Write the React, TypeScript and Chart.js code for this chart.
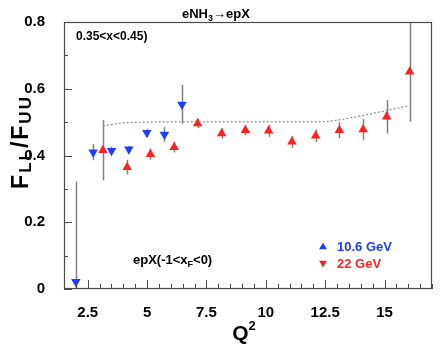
import React, { useEffect, useRef } from 'react';
import { Chart, registerables } from 'chart.js';

Chart.register(...registerables);

// ---- data ----
const blueQ2 = [2.0, 2.73, 3.5, 4.23, 4.99, 5.73, 6.47];
const blueVal = [0.022, 0.41, 0.414, 0.419, 0.468, 0.463, 0.553];
const blueErr = [0.3, 0.024, 0.012, 0.01, 0.012, 0.022, 0.058];

const redQ2 = [3.14, 4.16, 5.14, 6.14, 7.13, 8.14, 9.14, 10.12, 11.1, 12.1, 13.1, 14.1, 15.09, 16.06];
const redVal = [0.416, 0.365, 0.404, 0.425, 0.496, 0.466, 0.476, 0.474, 0.441, 0.459, 0.476, 0.478, 0.516, 0.651];
const redErr = [0.09, 0.022, 0.017, 0.016, 0.014, 0.016, 0.015, 0.018, 0.018, 0.019, 0.024, 0.031, 0.05, 0.15];

const curveQ2 = [3.14, 3.6, 4.1, 5.0, 7.0, 10.0, 12.3, 13.1, 14.15, 15.1, 16.05];
const curveVal = [0.488, 0.494, 0.498, 0.5, 0.501, 0.501, 0.501, 0.507, 0.521, 0.535, 0.549];

const xTickLabels = [2.5, 5, 7.5, 10, 12.5, 15];
const yTickLabels = [0, 0.2, 0.4, 0.6, 0.8];

const BLUE = '#1e3cff';
const RED = '#ff1f1f';
const FONT = '"Liberation Sans", Arial, Helvetica, sans-serif';

function tri(ctx: CanvasRenderingContext2D, x: number, y: number, r: number, up: boolean, color: string) {
  ctx.beginPath();
  if (up) {
    ctx.moveTo(x, y - r);
    ctx.lineTo(x + r * 0.866, y + r * 0.5);
    ctx.lineTo(x - r * 0.866, y + r * 0.5);
  } else {
    ctx.moveTo(x, y + r);
    ctx.lineTo(x + r * 0.866, y - r * 0.5);
    ctx.lineTo(x - r * 0.866, y - r * 0.5);
  }
  ctx.closePath();
  ctx.fillStyle = color;
  ctx.fill();
}

// draws a sequence of [text, size, dy] pieces starting at x, baseline y
function pieces(
  ctx: CanvasRenderingContext2D,
  x: number,
  y: number,
  parts: [string, number, number][],
  color: string,
  spacing = 0
) {
  ctx.fillStyle = color;
  ctx.textBaseline = 'alphabetic';
  ctx.textAlign = 'left';
  let cx = x;
  for (const [t, s, dy] of parts) {
    ctx.font = `bold ${s}px ${FONT}`;
    for (const ch of t) {
      ctx.fillText(ch, cx, y + dy);
      cx += ctx.measureText(ch).width + spacing;
    }
  }
  return cx - x;
}
function piecesWidth(ctx: CanvasRenderingContext2D, parts: [string, number, number][], spacing = 0) {
  let w = 0;
  for (const [t, s] of parts) {
    ctx.font = `bold ${s}px ${FONT}`;
    for (const ch of t) w += ctx.measureText(ch).width + spacing;
  }
  return w - spacing;
}

const deco = {
  id: 'deco',
  beforeDatasetsDraw(chart: any) {
    const { ctx, chartArea: a, scales } = chart;
    const x = scales.x, y = scales.y;
    ctx.save();
    ctx.beginPath();
    ctx.rect(a.left, a.top, a.right - a.left, a.bottom - a.top);
    ctx.clip();
    ctx.strokeStyle = '#808080';
    ctx.lineWidth = 1.5;
    const bars = (xs: number[], vs: number[], es: number[]) => {
      xs.forEach((q, i) => {
        const px = Math.round(x.getPixelForValue(q)) + 0.5;
        ctx.beginPath();
        ctx.moveTo(px, y.getPixelForValue(vs[i] - es[i]));
        ctx.lineTo(px, y.getPixelForValue(vs[i] + es[i]));
        ctx.stroke();
      });
    };
    bars(blueQ2, blueVal, blueErr);
    bars(redQ2, redVal, redErr);
    ctx.restore();
  },
  afterDatasetsDraw(chart: any) {
    const { ctx, chartArea: a, scales } = chart;
    const x = scales.x, y = scales.y;
    ctx.save();
    // frame
    ctx.strokeStyle = '#4a4a4a';
    ctx.lineWidth = 1.2;
    ctx.strokeRect(a.left + 0.5, a.top + 0.5, a.right - a.left - 1, a.bottom - a.top - 1);
    // x ticks
    ctx.lineWidth = 1;
    for (let i = 3; i <= 34; i++) {
      const v = i / 2;
      const px = Math.round(x.getPixelForValue(v)) + 0.5;
      const len = i % 5 === 0 ? 9 : 5;
      ctx.beginPath();
      ctx.moveTo(px, a.bottom);
      ctx.lineTo(px, a.bottom - len);
      ctx.stroke();
    }
    for (let i = 0; i <= 8; i++) {
      const v = i / 10;
      const py = Math.round(y.getPixelForValue(v)) + 0.5;
      const len = i % 2 === 0 ? 8 : 4;
      ctx.beginPath();
      ctx.moveTo(a.left, py);
      ctx.lineTo(a.left + len, py);
      ctx.stroke();
    }
    // title
    pieces(ctx, 182, 18, [['eNH', 13, 0], ['3', 9, 3], ['\u2192epX', 13, 0]], '#000');
    // range text
    pieces(ctx, 76, 40, [['0.35<x<0.45)', 12, 0]], '#000');
    // bottom text
    pieces(ctx, 133, 264, [['epX(-1<x', 13, 0], ['F', 9, 3], ['<0)', 13, 0]], '#000');
    // legend
    tri(ctx, 323, 247, 4.5, true, BLUE);
    pieces(ctx, 337, 251, [['10.6 GeV', 13, 0]], BLUE);
    tri(ctx, 323, 263, 4.5, false, RED);
    pieces(ctx, 337, 268, [['22 GeV', 13, 0]], RED);
    // x title
    const qParts: [string, number, number][] = [['Q', 21, 0], ['2', 13, -10]];
    const qw = piecesWidth(ctx, qParts);
    pieces(ctx, 244 - qw / 2, 340, qParts, '#000');
    // y title
    ctx.save();
    ctx.translate(28, 143);
    ctx.rotate(-Math.PI / 2);
    const yParts: [string, number, number][] = [['F', 23, 0], ['LL', 17, 3], ['/F', 23, 0], ['UU', 17, 3]];
    const yw = piecesWidth(ctx, yParts, 2);
    pieces(ctx, -yw / 2, 0, yParts, '#000', 2);
    ctx.restore();
    ctx.restore();
  },
};

const tickFont = { family: FONT, size: 15, weight: 'bold' as const };

export default function App() {
  const ref = useRef<HTMLCanvasElement>(null);
  useEffect(() => {
    if (!ref.current) return;
    const chart = new Chart(ref.current, {
      type: 'scatter',
      data: {
        datasets: [
          {
            type: 'line',
            data: curveQ2.map((q, i) => ({ x: q, y: curveVal[i] })),
            borderColor: '#8c8c8c',
            borderWidth: 1.2,
            borderDash: [2, 2],
            pointRadius: 0,
            fill: false,
            cubicInterpolationMode: 'monotone',
          } as any,
          {
            data: blueQ2.map((q, i) => ({ x: q, y: blueVal[i] })),
            pointStyle: 'triangle',
            rotation: 180,
            pointRadius: 5.5,
            backgroundColor: BLUE,
            borderColor: BLUE,
            borderWidth: 0,
          },
          {
            data: redQ2.map((q, i) => ({ x: q, y: redVal[i] })),
            pointStyle: 'triangle',
            pointRadius: 5.5,
            backgroundColor: RED,
            borderColor: RED,
            borderWidth: 0,
          },
        ],
      },
      options: {
        responsive: false,
        animation: false,
        layout: { padding: { top: 22, right: 8, left: 0, bottom: 0 } },
        plugins: { legend: { display: false }, tooltip: { enabled: false } },
        scales: {
          x: {
            type: 'linear',
            min: 1.5,
            max: 17,
            afterBuildTicks: (s: any) => {
              s.ticks = xTickLabels.map((v) => ({ value: v }));
            },
            afterFit: (s: any) => {
              s.height = 57;
            },
            ticks: {
              font: tickFont,
              color: '#000',
              padding: 7,
              maxRotation: 0,
              autoSkip: false,
              callback: (v: any) => String(v),
            },
            grid: { display: false },
            border: { display: false },
          },
          y: {
            type: 'linear',
            min: 0,
            max: 0.8,
            afterBuildTicks: (s: any) => {
              s.ticks = yTickLabels.map((v) => ({ value: v }));
            },
            afterFit: (s: any) => {
              s.width = 64;
            },
            ticks: {
              font: tickFont,
              color: '#000',
              padding: 11,
              autoSkip: false,
              callback: (v: any) => (v === 0 ? '0' : Number(v).toFixed(1)),
            },
            grid: { display: false },
            border: { display: false },
          },
        },
      },
      plugins: [deco],
    });
    return () => chart.destroy();
  }, []);
  return (
    <div style={{ position: 'fixed', left: 0, top: 0, width: 440, height: 346, background: '#fff' }}>
      <canvas ref={ref} width={440} height={346} style={{ width: 440, height: 346 }} />
    </div>
  );
}
